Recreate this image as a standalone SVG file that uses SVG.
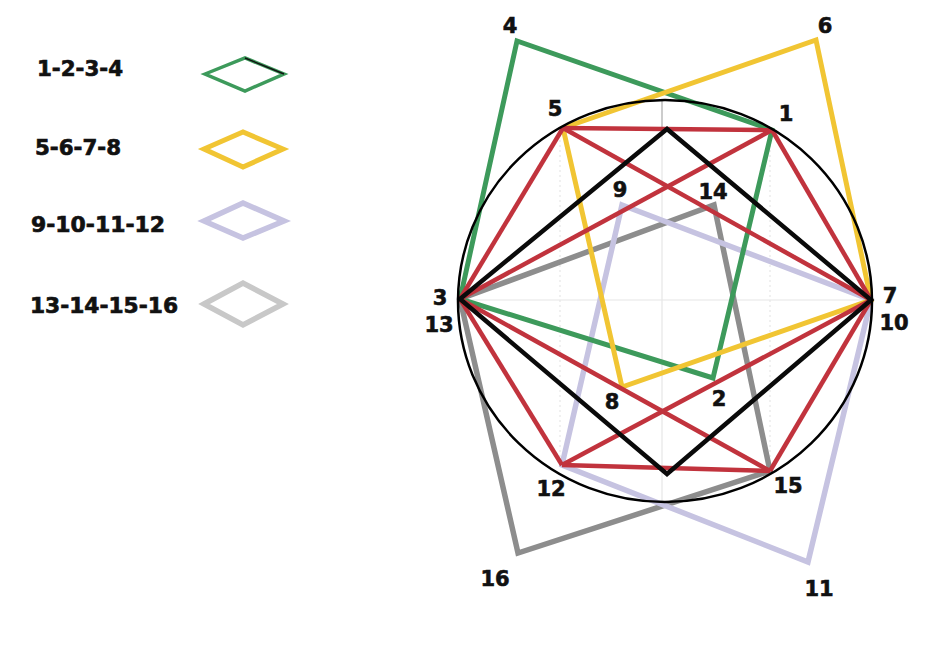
<svg xmlns="http://www.w3.org/2000/svg" width="939" height="650" viewBox="0 0 939 650">
<style>
.lbl{font-family:"DejaVu Sans","Liberation Sans",sans-serif;font-weight:bold;font-size:21px;fill:#111;stroke:#111;stroke-width:0.6;text-anchor:middle}
.leg{font-family:"DejaVu Sans","Liberation Sans",sans-serif;font-weight:bold;font-size:22px;fill:#111;stroke:#111;stroke-width:0.7}
.poly{fill:none;stroke-linejoin:miter}
.green{stroke:#3d9a5b;stroke-width:5}
.yellow{stroke:#f1c533;stroke-width:5}
.lav{stroke:#c6c3e1;stroke-width:5.5}
.gray{stroke:#8d8d8d;stroke-width:5.5}
.red{stroke:#c1333d;stroke-width:4.5;fill:none}
.black{stroke:#0a0a0a;stroke-width:4.5}
.grid{stroke:#e6e6e6;stroke-width:1.2;fill:none}
</style>
<rect width="939" height="650" fill="#fff"/>
<g id="legend">
  <g id="legend-1-2-3-4">
    <text class="leg" x="37" y="76" textLength="86" lengthAdjust="spacingAndGlyphs">1-2-3-4</text>
    <polygon class="poly" points="205,74 245,58 284,74 245,91" stroke="#3d9a5b" stroke-width="3.5"/>
    <line x1="245" y1="58" x2="284" y2="74" stroke="#111" stroke-width="1.5"/>
  </g>
  <g id="legend-5-6-7-8">
    <text class="leg" x="35" y="155" textLength="86" lengthAdjust="spacingAndGlyphs">5-6-7-8</text>
    <polygon class="poly yellow" points="204,149 243,132 283,149 243,167"/>
  </g>
  <g id="legend-9-10-11-12">
    <text class="leg" x="31" y="232" textLength="134" lengthAdjust="spacingAndGlyphs">9-10-11-12</text>
    <polygon class="poly lav" points="204,221 243,203 284,221 243,238"/>
  </g>
  <g id="legend-13-14-15-16">
    <text class="leg" x="30" y="313" textLength="148" lengthAdjust="spacingAndGlyphs">13-14-15-16</text>
    <polygon class="poly" points="204,304 243,283 283,304 243,325" stroke="#c8c8c8" stroke-width="5.5"/>
  </g>
</g>
<g id="grid">
  <line class="grid" x1="459" y1="300" x2="871" y2="300"/>
  <line class="grid" x1="662" y1="129" x2="662" y2="502"/>
  <line x1="662" y1="100" x2="662" y2="129" stroke="#bbb" stroke-width="1.5"/>
  <line class="grid" x1="560" y1="130" x2="560" y2="465" stroke-dasharray="2 3"/>
  <line class="grid" x1="770" y1="130" x2="770" y2="470" stroke-dasharray="2 3"/>
</g>
<g id="connectors">
  <polygon id="square-13-14-15-16" class="poly gray" points="460,299 714,205 770,471 518,553"/>
  <polygon id="square-9-10-11-12" class="poly lav" points="622,205 871,300 808,562 562,465"/>
  <polygon id="square-1-2-3-4" class="poly green" points="772,130 713,378 460,299 517,41"/>
  <polygon id="square-5-6-7-8" class="poly yellow" points="563,128 816,40 871,300 622,387"/>
  <g id="red-star">
    <line class="red" x1="563" y1="128" x2="772" y2="130"/>
    <line class="red" x1="562" y1="465" x2="770" y2="471"/>
    <line class="red" x1="563" y1="128" x2="460" y2="299"/>
    <line class="red" x1="563" y1="128" x2="871" y2="300"/>
    <line class="red" x1="772" y1="130" x2="460" y2="299"/>
    <line class="red" x1="772" y1="130" x2="871" y2="300"/>
    <line class="red" x1="460" y1="299" x2="562" y2="465"/>
    <line class="red" x1="460" y1="299" x2="770" y2="471"/>
    <line class="red" x1="871" y1="300" x2="562" y2="465"/>
    <line class="red" x1="871" y1="300" x2="770" y2="471"/>
  </g>
  <polygon id="black-square" class="poly black" points="460,299 667,129 871,300 667,474"/>
  <ellipse id="circle" cx="665" cy="301" rx="207" ry="201" fill="none" stroke="#000" stroke-width="2.5"/>
</g>
<g id="n1"><text class="lbl" x="786" y="121">1</text></g>
<g id="n2"><text class="lbl" x="719" y="406">2</text></g>
<g id="n3"><text class="lbl" x="440" y="305">3</text></g>
<g id="n4"><text class="lbl" x="510" y="33">4</text></g>
<g id="n5"><text class="lbl" x="555" y="116">5</text></g>
<g id="n6"><text class="lbl" x="825" y="33">6</text></g>
<g id="n7"><text class="lbl" x="890" y="303">7</text></g>
<g id="n8"><text class="lbl" x="612" y="409">8</text></g>
<g id="n9"><text class="lbl" x="620" y="197">9</text></g>
<g id="n10"><text class="lbl" x="894" y="330">10</text></g>
<g id="n11"><text class="lbl" x="819" y="596">11</text></g>
<g id="n12"><text class="lbl" x="551" y="496">12</text></g>
<g id="n13"><text class="lbl" x="439" y="332">13</text></g>
<g id="n14"><text class="lbl" x="713" y="199">14</text></g>
<g id="n15"><text class="lbl" x="788" y="493">15</text></g>
<g id="n16"><text class="lbl" x="495" y="586">16</text></g>
</svg>
